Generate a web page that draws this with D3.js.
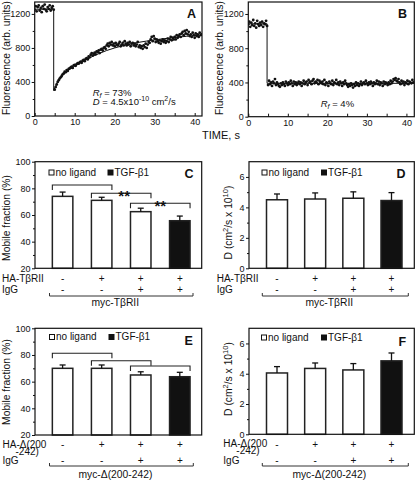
<!DOCTYPE html>
<html><head><meta charset="utf-8">
<script src="https://cdn.jsdelivr.net/npm/d3@7/dist/d3.min.js"></script>
<style>
html,body{margin:0;padding:0;background:#fff;}
svg{display:block;}
text{font-family:'Liberation Sans',Arial,Helvetica,sans-serif;fill:#111;}
</style></head>
<body>
<svg id="fig" width="416" height="480"></svg>
<script>
// ---------------- DATA ----------------
const timeStep = 0.25;   // s between FRAP samples
const bleachTime = 4.75;
// Panel A: fluorescence (arb. units), sampled every 0.25 s from t = 0
const fluorA = [
 1250,1290,1230,1280,1300,1240,1270,1220,1290,1260,1310,1250,1230,1280,1260,1300,1240,1270,1290,1250,
 310,340,370,400,420,440,455,470,
 490,500,520,515,540,530,555,560,
 570,580,565,595,600,590,610,620,
 615,630,640,625,650,660,645,670,
 680,665,700,690,720,740,710,730,
 745,725,760,750,770,740,780,790,
 770,800,810,790,830,850,820,860,
 840,870,830,850,820,860,840,830,
 850,870,820,840,860,830,880,850,
 830,860,840,870,820,850,860,830,
 850,820,840,870,810,830,800,820,
 790,830,810,850,800,840,870,860,
 900,930,880,940,910,870,900,880,
 860,890,850,880,900,870,890,860,
 880,910,870,900,930,890,920,900,
 930,900,950,920,940,960,930,970,
 990,950,1000,970,1010,960,990,940,
 960,930,980,950,920,970,940,960,
 930,980,950,960
];
// Panel B: fluorescence (arb. units), sampled every 0.25 s from t = 0
const fluorB = [
 1080,1110,1050,1100,1070,1130,1060,1090,1040,1120,1080,1060,1100,1070,1110,1050,1090,1080,1120,1060,
 370,
 420,380,400,360,410,390,440,370,400,380,
 360,350,390,370,400,380,360,410,390,370,
 400,380,420,390,360,410,380,400,370,390,
 410,380,400,360,390,420,380,400,410,370,
 430,400,410,380,420,440,390,410,400,430,
 380,420,400,390,410,380,430,370,400,390,
 360,410,390,380,420,370,400,390,430,380,
 400,370,410,390,360,400,380,420,390,370,
 350,380,360,390,370,340,380,360,400,370,
 390,360,380,410,370,390,400,380,420,390,
 370,400,380,410,390,360,400,380,390,420,
 380,410,370,400,390,360,410,380,400,390,
 370,400,380,420,390,410,440,430,450,420,
 410,440,400,380,420,390,410,370,400,390,
 420,380,410,400,390,430,400
];
// fitted curves
const fitPreA = 1255;
const fitTimeA = [4.75,5.5,6.5,8,10,12,14,16,18,20,22,24,26,28,30,32,34,36,38,40,42];
const fitValA  = [300,380,450,520,585,640,690,732,770,800,826,848,866,881,895,907,918,928,937,945,952];
const fitPreB = 1085;
const fitPostB = 390;

// bar panels
const conditions = ["c1","c2","c3","c4"];
const ligand = ["no ligand","no ligand","no ligand","TGF-β1"];
const haRow  = ["-","+","+","+"];
const iggRow = ["-","-","+","+"];
const mobileC = [74, 71, 62.5, 55.7];
const mobileCErr = [3.2, 2.3, 2.6, 3.5];
const diffD = [4.5, 4.55, 4.6, 4.45];
const diffDErr = [0.38, 0.4, 0.42, 0.52];
const mobileE = [70, 70, 65, 63.7];
const mobileEErr = [2.5, 2.5, 2.4, 3.3];
const diffF = [4.05, 4.35, 4.25, 4.85];
const diffFErr = [0.42, 0.36, 0.42, 0.52];
const bracketPairs = [[0,1],[1,2],[2,3]];
const bracketLevelC = [82.5, 76.3, 68.8];
const signifC = ["", "**", "**"];
const bracketLevelE = [81.3, 75.7, 71.7];
const signifE = ["", "", ""];
const fluorTicks = [0,400,800,1200];
const fluorMinor = [200,600,1000];
const timeTicks = [0,10,20,30,40];
const timeMinor = [5,15,25,35];
const mobTicks = [20,40,60,80,100];
const mobMinor = [30,50,70,90];
const dTicks = [0,2,4,6];
const dMinor = [1,3,5];

// ---------------- DRAW ----------------
const svg = d3.select("#fig");
svg.append("rect").attr("width",416).attr("height",480).attr("fill","#fff");
const FS = 9;
const fmt = d3.format("d");

function frame(g, x0, x1, y0, y1){
  g.append("rect").attr("x",x0).attr("y",y0).attr("width",x1-x0).attr("height",y1-y0)
    .attr("fill","none").attr("stroke","#111").attr("stroke-width",1.2);
}
function yAxis(g, y, x0, major, minor){
  const a = g.append("g").attr("transform",`translate(${x0},0)`)
    .call(d3.axisLeft(y).tickValues(major).tickSize(3).tickPadding(1.5).tickFormat(fmt));
  a.select(".domain").remove();
  a.selectAll("text").attr("font-size",FS).style("font-family","'Liberation Sans',Arial,sans-serif").attr("fill","#111");
  a.selectAll("line").attr("stroke","#111");
  const m = g.append("g").attr("transform",`translate(${x0},0)`)
    .call(d3.axisLeft(y).tickValues(minor).tickSize(2).tickFormat(""));
  m.select(".domain").remove();
  m.selectAll("line").attr("stroke","#111");
}
function xTimeAxis(g, x, y0){
  const a = g.append("g").attr("transform",`translate(0,${y0})`)
    .call(d3.axisBottom(x).tickValues(timeTicks).tickSize(-3).tickPadding(3).tickFormat(fmt));
  a.select(".domain").remove();
  a.selectAll("text").attr("font-size",FS).style("font-family","'Liberation Sans',Arial,sans-serif").attr("fill","#111");
  a.selectAll("line").attr("stroke","#111");
  const m = g.append("g").attr("transform",`translate(0,${y0})`)
    .call(d3.axisBottom(x).tickValues(timeMinor).tickSize(-3).tickFormat(""));
  m.select(".domain").remove();
  m.selectAll("line").attr("stroke","#111");
}
function rotLabel(g, x, y, build){
  const t = g.append("text").attr("transform",`translate(${x},${y}) rotate(-90)`)
    .attr("text-anchor","middle").attr("font-size",10.3);
  build(t);
}
function panelLetter(g, x, y, s){
  g.append("text").attr("x",x).attr("y",y).attr("font-size",12.5).attr("font-weight","bold").text(s);
}

// ---- FRAP panels ----
function frapPanel(opt){
  const g = svg.append("g");
  const x = d3.scaleLinear().domain([0,42]).range([opt.x0, opt.x0 + 42*opt.pxPerS]);
  const y = d3.scaleLinear().domain([0,1340]).range([opt.yb, opt.yt]);
  const clipId = "clip"+opt.letter;
  svg.append("clipPath").attr("id",clipId).append("rect")
    .attr("x",opt.x0).attr("y",opt.yt).attr("width",opt.x1-opt.x0).attr("height",opt.yb-opt.yt);
  const pg = g.append("g").attr("clip-path",`url(#${clipId})`);
  opt.fit(pg, x, y);
  pg.selectAll("circle").data(opt.values).join("circle")
    .attr("cx",(d,i)=>x(i*timeStep)).attr("cy",d=>y(d)).attr("r",1.4).attr("fill","#111");
  frame(g, opt.x0, opt.x1, opt.yt, opt.yb);
  yAxis(g, y, opt.x0, fluorTicks, fluorMinor);
  xTimeAxis(g, x, opt.yb);
  rotLabel(g, opt.labX, 58, t=>t.text("Fluorescence (arb. units)"));
  panelLetter(g, opt.letX, 17.5, opt.letter);
  return g;
}
const gA = frapPanel({letter:"A", x0:34.7, x1:202, pxPerS:4.0, yt:2, yb:116, values:fluorA, labX:10, letX:187,
  fit:(pg,x,y)=>{
    pg.append("path").attr("d",d3.line()([[x(0),y(fitPreA)],[x(bleachTime),y(fitPreA)],[x(bleachTime),y(fitValA[0])]]))
      .attr("fill","none").attr("stroke","#111").attr("stroke-width",1);
    pg.append("path").datum(fitTimeA.map((t,i)=>[t,fitValA[i]]))
      .attr("d",d3.line().x(d=>x(d[0])).y(d=>y(d[1])).curve(d3.curveMonotoneX))
      .attr("fill","none").attr("stroke","#111").attr("stroke-width",1);
  }});
const gB = frapPanel({letter:"B", x0:248.3, x1:414.3, pxPerS:3.953, yt:2, yb:116.7, values:fluorB, labX:223, letX:398,
  fit:(pg,x,y)=>{
    pg.append("path").attr("d",d3.line()([[x(0),y(fitPreB)],[x(bleachTime),y(fitPreB)],[x(bleachTime),y(fitPostB)],[x(42),y(fitPostB)]]))
      .attr("fill","none").attr("stroke","#111").attr("stroke-width",1);
  }});
// annotations
let t1 = gA.append("text").attr("x",92.7).attr("y",95.5).attr("font-size",9.5);
t1.append("tspan").attr("font-style","italic").text("R");
t1.append("tspan").attr("font-style","italic").attr("font-size",7).attr("dy",2).text("f");
t1.append("tspan").attr("dy",-2).text(" = 73%");
let t2 = gA.append("text").attr("x",92.7).attr("y",104.5).attr("font-size",9.5);
t2.append("tspan").attr("font-style","italic").text("D");
t2.append("tspan").text(" = 4.5x10");
t2.append("tspan").attr("font-size",7).attr("dy",-3.5).text("-10");
t2.append("tspan").attr("dy",3.5).text(" cm");
t2.append("tspan").attr("font-size",7).attr("dy",-3.5).text("2");
t2.append("tspan").attr("dy",3.5).text("/s");
let t3 = gB.append("text").attr("x",320.7).attr("y",107).attr("font-size",9.5);
t3.append("tspan").attr("font-style","italic").text("R");
t3.append("tspan").attr("font-style","italic").attr("font-size",7).attr("dy",2).text("f");
t3.append("tspan").attr("dy",-2).text(" = 4%");
svg.append("text").attr("x",202).attr("y",138.5).attr("font-size",11).text("TIME, s");

// ---- Bar panels ----
function barPanel(opt){
  const g = svg.append("g");
  const x = d3.scalePoint().domain(conditions).range(opt.centers);
  const y = d3.scaleLinear().domain(opt.domain).range([opt.yb, opt.yt]);
  const bw = opt.bw;
  // bars
  g.selectAll("rect.bar").data(conditions).join("rect").attr("class","bar")
    .attr("x",d=>x(d)-bw/2).attr("width",bw)
    .attr("y",(d,i)=>y(opt.values[i])).attr("height",(d,i)=>opt.yb - y(opt.values[i]))
    .attr("fill",(d,i)=>ligand[i]==="TGF-β1" ? "#111" : "#fff")
    .attr("stroke","#222").attr("stroke-width",1.5);
  // error bars
  const eg = g.append("g").attr("stroke","#111").attr("stroke-width",1.3);
  conditions.forEach((c,i)=>{
    const top = y(opt.values[i]+opt.errs[i]);
    eg.append("line").attr("x1",x(c)).attr("x2",x(c)).attr("y1",y(opt.values[i])).attr("y2",top);
    eg.append("line").attr("x1",x(c)-3).attr("x2",x(c)+3).attr("y1",top).attr("y2",top);
  });
  // brackets
  if(opt.brackets){
    opt.brackets.forEach((lv,k)=>{
      const [a,b] = bracketPairs[k];
      const xa = x(conditions[a]) - bw/2, xb = x(conditions[b]) + bw/2;
      const yy = y(lv);
      g.append("path").attr("d",d3.line()([[xa,yy+5],[xa,yy],[xb,yy],[xb,yy+5]]))
        .attr("fill","none").attr("stroke","#222").attr("stroke-width",1.1);
      if(opt.signif[k]) g.append("text").attr("x",(xa+xb)/2 + (k===1?3:0)).attr("y",yy+8)
        .attr("text-anchor","middle").attr("font-size",15).attr("font-weight","bold").text(opt.signif[k]);
    });
  }
  frame(g, opt.x0, opt.x1, opt.yt, opt.yb);
  yAxis(g, y, opt.x0, opt.major, opt.minor);
  // legend
  const ly = opt.legY;
  g.append("rect").attr("x",opt.leg1).attr("y",ly-5.5).attr("width",5).attr("height",5)
    .attr("fill","#fff").attr("stroke","#111").attr("stroke-width",1);
  g.append("text").attr("x",opt.leg1+6.5).attr("y",ly).attr("font-size",10).text("no ligand");
  g.append("rect").attr("x",opt.leg2).attr("y",ly-5.5).attr("width",5).attr("height",5)
    .attr("fill","#111").attr("stroke","#111").attr("stroke-width",1);
  g.append("text").attr("x",opt.leg2+6.5).attr("y",ly).attr("font-size",10).text("TGF-β1");
  panelLetter(g, opt.letX, opt.letY, opt.letter);
  // row labels
  opt.rowLabel(g);
  g.selectAll("text.ha").data(conditions).join("text").attr("class","ha")
    .attr("x",d=>x(d)).attr("y",opt.row1).attr("text-anchor","middle").attr("font-size",10)
    .text((d,i)=>haRow[i]);
  g.selectAll("text.igg").data(conditions).join("text").attr("class","igg")
    .attr("x",d=>x(d)).attr("y",opt.row2).attr("text-anchor","middle").attr("font-size",10)
    .text((d,i)=>iggRow[i]);
  // bottom bracket
  const by = opt.brY;
  g.append("path").attr("d",d3.line()([[opt.brX0,by-3],[opt.brX0,by],[opt.brX1,by],[opt.brX1,by-3]]))
    .attr("fill","none").attr("stroke","#333").attr("stroke-width",1);
  g.append("text").attr("x",(opt.brX0+opt.brX1)/2 - 6).attr("y",opt.grpY).attr("text-anchor","middle")
    .attr("font-size",10.3).text(opt.group);
  return g;
}

function mobLabel(g, x, y){ rotLabel(g, x, y, t=>t.text("Mobile fraction (%)")); }
function dLabel(g, x, y){
  rotLabel(g, x, y, t=>{
    t.append("tspan").text("D (cm");
    t.append("tspan").attr("font-size",7.5).attr("dy",-4).text("2");
    t.append("tspan").attr("dy",4).text("/s x 10");
    t.append("tspan").attr("font-size",7.5).attr("dy",-4).text("10");
    t.append("tspan").attr("dy",4).text(")");
  });
}
function haTbr(g, x, y){
  g.append("text").attr("x",x).attr("y",y).attr("font-size",10).text("HA-TβRII");
}
function haDel(g, x, y){
  g.append("text").attr("x",x).attr("y",y).attr("font-size",10).text("HA-Δ(200");
  g.append("text").attr("x",x+13).attr("y",y+7.5).attr("font-size",10).text("-242)");
}

const gC = barPanel({letter:"C", x0:35, x1:201.7, yt:161.7, yb:268.3, domain:[20,100], major:mobTicks, minor:mobMinor,
  centers:[62.6,179.8], bw:20.5, values:mobileC, errs:mobileCErr, brackets:bracketLevelC, signif:signifC,
  legY:175.5, leg1:49, leg2:108, letX:184.5, letY:178, row1:281.5, row2:293, brX0:49.5, brX1:193, brY:296,
  grpY:305.5, group:"myc-TβRII",
  rowLabel:g=>{ haTbr(g,2,281.5); g.append("text").attr("x",2).attr("y",293).attr("font-size",10).text("IgG"); mobLabel(g,10,218); }});
const gD = barPanel({letter:"D", x0:249, x1:414.3, yt:161.7, yb:268.3, domain:[0,7], major:dTicks, minor:dMinor,
  centers:[277,391.5], bw:21, values:diffD, errs:diffDErr,
  legY:175.5, leg1:262, leg2:321.5, letX:396.5, letY:178.3, row1:281.5, row2:293, brX0:262.3, brX1:408.3, brY:296,
  grpY:305.5, group:"myc-TβRII",
  rowLabel:g=>{ haTbr(g,216.7,281.5); g.append("text").attr("x",216.7).attr("y",293).attr("font-size",10).text("IgG"); dLabel(g,232,222.5); }});
const gE = barPanel({letter:"E", x0:35, x1:201.7, yt:328.3, yb:435, domain:[20,100], major:mobTicks, minor:mobMinor,
  centers:[62.6,179.8], bw:20.5, values:mobileE, errs:mobileEErr, brackets:bracketLevelE, signif:signifE,
  legY:340, leg1:49.5, leg2:109, letX:184.5, letY:345, row1:447.5, row2:464, brX0:49.5, brX1:193.3, brY:466,
  grpY:478, group:"myc-Δ(200-242)",
  rowLabel:g=>{ haDel(g,2.5,447.5); g.append("text").attr("x",2.5).attr("y",464).attr("font-size",10).text("IgG"); mobLabel(g,10,382); }});
const gF = barPanel({letter:"F", x0:249, x1:414.3, yt:328.3, yb:434.3, domain:[0,7], major:dTicks, minor:dMinor,
  centers:[277,391.5], bw:21, values:diffF, errs:diffFErr,
  legY:340.5, leg1:261.5, leg2:321.5, letX:398.5, letY:346, row1:447.5, row2:464, brX0:262.3, brX1:408.3, brY:466,
  grpY:478, group:"myc-Δ(200-242)",
  rowLabel:g=>{ haDel(g,223.3,446.5); g.append("text").attr("x",223.3).attr("y",464).attr("font-size",10).text("IgG"); dLabel(g,232,379); }});
</script>
</body></html>
